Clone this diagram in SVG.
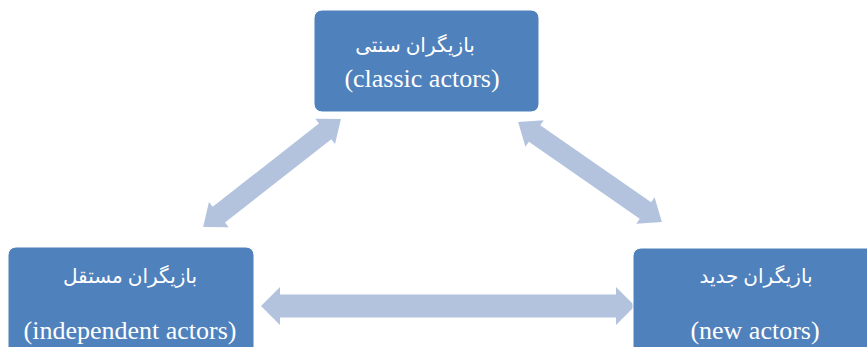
<svg xmlns="http://www.w3.org/2000/svg" width="867" height="347" viewBox="0 0 867 347">
<style>
.box{fill:#4F81BD;stroke:#ffffff;stroke-width:1}
.fa{font-family:"Liberation Serif","DejaVu Serif","DejaVu Sans",serif;font-size:20px;fill:#ffffff;text-anchor:middle}
.en{font-family:"Liberation Serif","Times New Roman",serif;font-size:26px;fill:#ffffff;text-anchor:middle}
.arr{fill:#B3C3DE}
</style>
<rect width="867" height="347" fill="#ffffff"/>
<g id="connectors">
<polygon class="arr" transform="translate(448,306)" points="-187,0 -168,-19 -168,-11.5 168,-11.5 168,-19 187,0 168,19 168,11.5 -168,11.5 -168,19"/>
<polygon class="arr" transform="translate(272,173) rotate(-38.05)" points="-87.5,0 -67.5,-16 -67.5,-10 67.5,-10 67.5,-16 87.5,0 67.5,16 67.5,10 -67.5,10 -67.5,16"/>
<polygon class="arr" transform="translate(590,172) rotate(34.78)" points="-87.5,0 -67.5,-16 -67.5,-10 67.5,-10 67.5,-16 87.5,0 67.5,16 67.5,10 -67.5,10 -67.5,16"/>
</g>
<g id="classic">
<rect class="box" x="314" y="10" width="225" height="102" rx="8"/>
<text class="fa" x="415" y="52" direction="rtl">بازیگران سنتی</text>
<text class="en" x="422" y="87">(classic actors)</text>
</g>
<g id="independent">
<rect class="box" x="8" y="247" width="246" height="120" rx="8"/>
<text class="fa" x="130" y="283" direction="rtl">بازیگران مستقل</text>
<text class="en" x="130" y="339">(independent actors)</text>
</g>
<g id="new">
<rect class="box" x="633" y="248" width="260" height="120" rx="8"/>
<text class="fa" x="756" y="283" direction="rtl">بازیگران جدید</text>
<text class="en" x="755" y="339">(new actors)</text>
</g>
</svg>
